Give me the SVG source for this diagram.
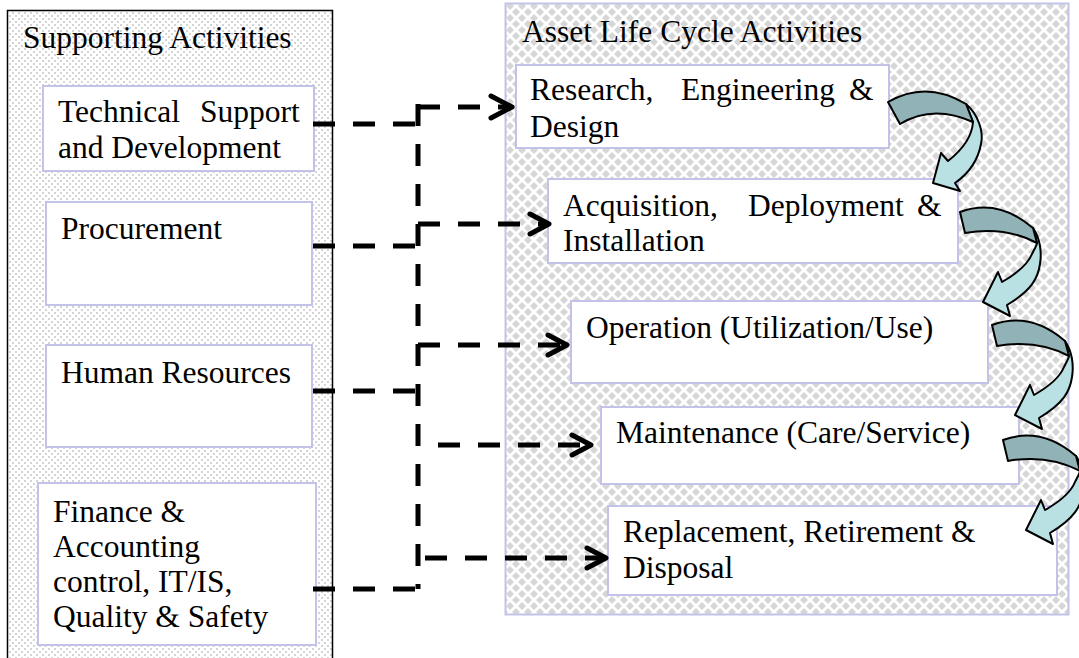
<svg xmlns="http://www.w3.org/2000/svg" width="1079" height="658" viewBox="0 0 1079 658">
<style>
text{font-family:"Liberation Serif","Times New Roman",serif;font-size:31.5px;fill:#000}
.box{fill:#fff;stroke:#c3c3ea;stroke-width:2}
.dash{fill:none;stroke:#000;stroke-width:5;stroke-dasharray:22 18}
.head{fill:none;stroke:#000;stroke-width:5;stroke-linecap:round;stroke-linejoin:round}
.dk{fill:#91b2b6;stroke:#000;stroke-width:2;stroke-linejoin:round}
.lt{fill:#b9e0e2;stroke:#000;stroke-width:2;stroke-linejoin:round}
</style>
<defs>
<pattern id="dots" width="6" height="6" patternUnits="userSpaceOnUse">
<rect width="6" height="6" fill="#fff"/>
<rect x="0" y="0" width="2" height="2" fill="#d4d4d4"/>
<rect x="3" y="3" width="2" height="2" fill="#d4d4d4"/>
</pattern>
<pattern id="diam" width="12" height="12" patternUnits="userSpaceOnUse">
<rect width="12" height="12" fill="#fff"/>
<path d="M6,2L10,6L6,10L2,6Z M0,-4L4,0L0,4L-4,0Z M12,-4L16,0L12,4L8,0Z M0,8L4,12L0,16L-4,12Z M12,8L16,12L12,16L8,12Z" fill="#d6d6d6"/>
</pattern>
<g id="arrA">
<path class="lt" d="M78,2 C90,12 96,30 93,42 C90,58 80,72 67,81 L72,89 L45,81 L53,51 L60,59 C74,48 84,36 85,20 Z"/>
<path class="dk" d="M0,0 Q38,-22 78,2 L85,20 Q45,2 12,22 Z"/>
</g>
<g id="arrB">
<path class="lt" d="M73,16 C80,26 82,40 80,52 C78,66 72,78 47,93 L50,104 L23,90 L38,60 L42,70 C56,62 68,52 72,42 C75,36 77,33 77,31 Z"/>
<path class="dk" d="M0,0 Q38,-14 73,16 L77,31 Q45,14 5,21 Z"/>
</g>
</defs>

<g id="supporting-activities">
<rect x="7.5" y="10.5" width="325" height="700" fill="url(#dots)" stroke="#000" stroke-width="1.5"/>
<text x="23" y="48">Supporting Activities</text>
</g>
<g id="technical-support">
<rect class="box" x="43" y="86" width="271" height="85"/>
<text y="122"><tspan x="58">Technical</tspan><tspan x="200">Support</tspan></text>
<text x="58" y="158">and Development</text>
</g>
<g id="procurement">
<rect class="box" x="46" y="202" width="266" height="103"/>
<text x="61" y="239">Procurement</text>
</g>
<g id="human-resources">
<rect class="box" x="46" y="345" width="266" height="102"/>
<text x="61" y="383">Human Resources</text>
</g>
<g id="finance">
<rect class="box" x="38" y="483" width="278" height="162"/>
<text x="53" y="522">Finance &amp;</text>
<text x="53" y="557">Accounting</text>
<text x="53" y="592">control, IT/IS,</text>
<text x="53" y="627">Quality &amp; Safety</text>
</g>

<g id="asset-life-cycle">
<rect x="505.5" y="3.5" width="563" height="611" fill="url(#diam)" stroke="#c3c3ea" stroke-width="2"/>
<text x="522" y="42">Asset Life Cycle Activities</text>
</g>
<g id="research">
<rect class="box" x="516" y="65" width="373" height="83"/>
<text y="100"><tspan x="530">Research,</tspan><tspan x="681">Engineering</tspan><tspan x="849">&amp;</tspan></text>
<text x="530" y="137">Design</text>
</g>
<g id="acquisition">
<rect class="box" x="548" y="179" width="410" height="84"/>
<text y="216"><tspan x="563">Acquisition,</tspan><tspan x="748">Deployment</tspan><tspan x="917">&amp;</tspan></text>
<text x="563" y="251">Installation</text>
</g>
<g id="operation">
<rect class="box" x="571" y="301" width="417" height="82"/>
<text x="586" y="338">Operation (Utilization/Use)</text>
</g>
<g id="maintenance">
<rect class="box" x="601" y="407" width="418" height="77"/>
<text x="616" y="443">Maintenance (Care/Service)</text>
</g>
<g id="replacement">
<rect class="box" x="608" y="506" width="449" height="89"/>
<text x="623" y="542">Replacement, Retirement &amp;</text>
<text x="623" y="578">Disposal</text>
</g>

<g id="connectors">
<path class="dash" d="M418,104 V589"/>
<path class="dash" d="M313,124 H418"/>
<path class="dash" d="M313,246 H418"/>
<path class="dash" d="M313,391 H418"/>
<path class="dash" d="M313,589 H418"/>
<path class="dash" d="M418,107 H508"/>
<path class="dash" d="M418,224 H545"/>
<path class="dash" d="M418,345 H565"/>
<path class="dash" d="M438,445 H588"/>
<path class="dash" d="M425,558 H603"/>
<polyline class="head" points="491,96 512,107 491,118"/>
<polyline class="head" points="530,214 549,224 530,234"/>
<polyline class="head" points="548,335 567,345 548,355"/>
<polyline class="head" points="572,435 591,445 572,455"/>
<polyline class="head" points="587,548 606,558 587,568"/>
</g>

<g id="flow-arrows">
<use href="#arrA" transform="translate(888,102)"/>
<use href="#arrB" transform="translate(960,212)"/>
<use href="#arrB" transform="translate(992,325)"/>
<use href="#arrB" transform="translate(1003,440)"/>
</g>
</svg>
